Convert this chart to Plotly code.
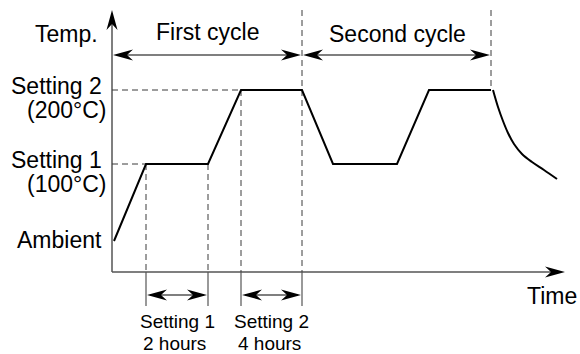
import plotly.graph_objects as go

# ---- data (schematic units) ----
level_names = ["Ambient", "Setting 1", "Setting 2"]
level_subs = ["", "(100°C)", "(200°C)"]
level_values = [31, 108, 182]

profile_t = [2, 34, 96, 129, 190, 221, 285, 317, 379]
profile_T = [31, 108, 108, 182, 182, 108, 108, 182, 182]
cool_t = [381, 386, 391, 396, 402, 410, 420, 432, 445]
cool_T = [182, 165, 151, 139, 128, 118, 110, 102, 93]

hold_spans = [[34, 96], [129, 190]]
hold_levels = [108, 182]
hold_labels = [["Setting 1", "2 hours"], ["Setting 2", "4 hours"]]
cycle_bounds = [0, 190, 379]
cycle_names = ["First cycle", "Second cycle"]
axis_titles = ["Temp.", "Time"]
t_max, T_max = 453, 262

FONT = "Liberation Sans, Arial, sans-serif"
AX = "#555555"
DASH = "#3a3a3a"

fig = go.Figure()
fig.add_trace(go.Scatter(x=profile_t, y=profile_T, mode="lines",
                         line=dict(color="black", width=2), hoverinfo="skip"))
fig.add_trace(go.Scatter(x=cool_t, y=cool_T, mode="lines",
                         line=dict(color="black", width=2, shape="spline", smoothing=1),
                         hoverinfo="skip"))

shapes = []


def line(x0, y0, x1, y1, color=AX, width=1.5, dash="solid"):
    shapes.append(dict(type="line", xref="x", yref="y", x0=x0, y0=y0, x1=x1, y1=y1,
                       line=dict(color=color, width=width, dash=dash), layer="below"))


def head(x, y, d):
    L, W, N = 20, 5.5, 14
    if d == "right":
        p = f"M0,0 L{-L},{W} L{-N},0 L{-L},{-W} Z"
    elif d == "left":
        p = f"M0,0 L{L},{W} L{N},0 L{L},{-W} Z"
    else:  # up
        p = f"M0,0 L{-W},{-L} L0,{-N} L{W},{-L} Z"
    shapes.append(dict(type="path", xref="x", yref="y", xsizemode="pixel",
                       ysizemode="pixel", xanchor=x, yanchor=y, path=p,
                       fillcolor="black", line=dict(width=0)))


# axes with arrows
line(0, 0, 0, T_max - 4)
head(0, T_max, "up")
line(0, 0, t_max - 4, 0)
head(t_max, 0, "right")

dash = "6px,4px"
# horizontal guides to the levels
line(0, hold_levels[0], hold_spans[0][0], hold_levels[0], DASH, 1, dash)
line(0, hold_levels[1], hold_spans[1][0], hold_levels[1], DASH, 1, dash)
# vertical guides for holds
for (a, b), lv in zip(hold_spans, hold_levels):
    for xv in (a, b):
        top = T_max if xv == cycle_bounds[1] else lv
        line(xv, top, xv, 0, DASH, 1, dash)
        line(xv, 0, xv, -34, AX, 1.2)
line(cycle_bounds[2], T_max, cycle_bounds[2], hold_levels[1], DASH, 1, dash)

# cycle double arrows
y_cyc = 217
for i in range(2):
    a, b = cycle_bounds[i] + 1, cycle_bounds[i + 1] - 1
    line(a + 4, y_cyc, b - 4, y_cyc, AX, 1.5)
    head(a, y_cyc, "left")
    head(b, y_cyc, "right")
    fig.add_annotation(x=(cycle_bounds[i] + cycle_bounds[i + 1]) / 2 + 0.5,
                       y=y_cyc + 23 - i * 1.5, text=cycle_names[i], showarrow=False,
                       font=dict(size=23, family=FONT, color="black"),
                       xanchor="center", yanchor="middle", borderpad=0)

# hold double arrows + labels
y_hold = -23
for (a, b), lab in zip(hold_spans, hold_labels):
    line(a + 4, y_hold, b - 4, y_hold, AX, 1.5)
    head(a + 1, y_hold, "left")
    head(b - 1, y_hold, "right")
    fig.add_annotation(x=(a + b) / 2, y=-49.5, text=lab[0], showarrow=False,
                       font=dict(size=19, family=FONT, color="black"),
                       xanchor="center", yanchor="middle", borderpad=0)
    fig.add_annotation(x=(a + b) / 2 - 2.5, y=-71, text=lab[1], showarrow=False,
                       font=dict(size=19, family=FONT, color="black"),
                       xanchor="center", yanchor="middle", borderpad=0)

# level labels
for name, sub, v in zip(level_names, level_subs, level_values):
    yoff = 4 if sub else 1.5
    fig.add_annotation(x=-9, y=v + yoff, text=name, showarrow=False,
                       font=dict(size=23, family=FONT, color="black"),
                       xanchor="right", yanchor="middle", borderpad=0)
    if sub:
        fig.add_annotation(x=-4, y=v - 20, text=sub, showarrow=False,
                           font=dict(size=23, family=FONT, color="black"),
                           xanchor="right", yanchor="middle", borderpad=0)

# axis titles
fig.add_annotation(x=-13, y=238.5, text=axis_titles[0], showarrow=False,
                   font=dict(size=23, family=FONT, color="black"),
                   xanchor="right", yanchor="middle", borderpad=0)
fig.add_annotation(x=466, y=-23.5, text=axis_titles[1], showarrow=False,
                   font=dict(size=23, family=FONT, color="black"),
                   xanchor="right", yanchor="middle", borderpad=0)

fig.update_layout(
    width=580, height=354, autosize=False,
    margin=dict(l=0, r=0, t=0, b=0, pad=0),
    paper_bgcolor="white", plot_bgcolor="white",
    showlegend=False, shapes=shapes,
    xaxis=dict(range=[-112, 468], visible=False, fixedrange=True),
    yaxis=dict(range=[-82, 272], visible=False, fixedrange=True),
)
fig.write_html("out.html", config={"displayModeBar": False, "staticPlot": True},
               post_script="document.body.style.margin='0';document.body.style.overflow='hidden';")
